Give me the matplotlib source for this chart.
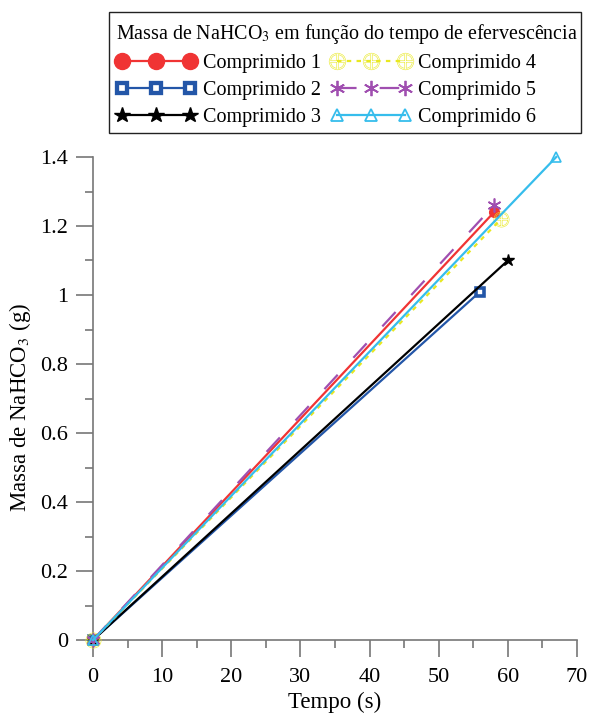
import matplotlib.pyplot as plt
from matplotlib.lines import Line2D
from matplotlib.patches import Rectangle

# series: start and end point of every tablet (time in s, mass in g)
labels = ['Comprimido 1', 'Comprimido 2', 'Comprimido 3',
          'Comprimido 4', 'Comprimido 5', 'Comprimido 6']
tempo = [[0, 58], [0, 56], [0, 60], [0, 59], [0, 58], [0, 67]]
massa = [[0, 1.24], [0, 1.01], [0, 1.10], [0, 1.22], [0, 1.26], [0, 1.40]]

colors = ['#f03434', '#2356a8', '#000000', '#e8e820', '#a04fb0', '#36bdec']

plt.rcParams['font.family'] = ['Liberation Serif', 'DejaVu Serif']
plt.rcParams['mathtext.fontset'] = 'stix'

W, H = 589, 714
fig = plt.figure(figsize=(W / 100, H / 100), dpi=100)
ax = fig.add_axes([93 / W, 1 - 640 / H, (577 - 93) / W, (640 - 157) / H])

# marker style per series, plus the (bigger) size used in the legend
styles = [
    dict(marker='o', mfc=colors[0], mec=colors[0], ls='-'),
    dict(marker='s', mfc='white', mec=colors[1], ls='-'),
    dict(marker='*', mfc=colors[2], mec=colors[2], ls='-'),
    dict(marker=r'$\oplus$', mfc='none', mec=colors[3], ls=(0, (2, 2.4))),
    dict(marker=(6, 2, 0), mfc='none', mec=colors[4], ls=(0, (8.8, 10.4))),
    dict(marker='^', mfc='none', mec=colors[5], ls='-'),
]
plot_ms = [7, 5.5, 9, 11, 10, 7.5]
plot_mew = [1, 2.6, 1, 0.4, 1.2, 1.2]
leg_ms = [11.5, 7.5, 11.5, 12, 11, 9]
leg_mew = [1, 3.1, 1, 0.4, 1.3, 1.3]

handles = []
for i in range(len(labels)):
    ax.plot(tempo[i], massa[i], color=colors[i], lw=1.6, ms=plot_ms[i], mew=plot_mew[i],
            clip_on=False, zorder=3, **styles[i])
    handles.append(Line2D([], [], color=colors[i], lw=1.6, ms=leg_ms[i], mew=leg_mew[i],
                          label=labels[i], **styles[i]))

ax.set_xlim(0, 70)
ax.set_ylim(0, 1.4)
ax.set_xticks(range(0, 71, 10))
ax.set_xticks(range(5, 70, 10), minor=True)
ax.set_yticks([0, 0.2, 0.4, 0.6, 0.8, 1.0, 1.2, 1.4])
ax.set_yticklabels(['0', '0.2', '0.4', '0.6', '0.8', '1', '1.2', '1.4'])
ax.set_yticks([0.1, 0.3, 0.5, 0.7, 0.9, 1.1, 1.3], minor=True)

for s in ['top', 'right']:
    ax.spines[s].set_visible(False)
for s in ['left', 'bottom']:
    ax.spines[s].set_color('#777777')
    ax.spines[s].set_linewidth(1.2)
ax.tick_params(which='major', length=12, width=1.2, color='#777777', labelsize=16)
ax.tick_params(which='minor', length=6, width=1.2, color='#777777')
ax.tick_params(axis='x', which='major', pad=8)
ax.tick_params(axis='y', which='major', pad=6)

ax.set_xlabel('Tempo (s)', fontsize=16.5, va='top')
ax.xaxis.set_label_coords(0.5, -0.107)
ax.set_ylabel(r'Massa de NaHCO$_3$ (g)', fontsize=16.5)
ax.yaxis.set_label_coords(-0.123, 0.482)

# legend frame drawn separately so the padding can differ per side
fig.add_artist(Rectangle((109 / W, 1 - 133 / H), 472 / W, 121 / H, transform=fig.transFigure,
                         facecolor='white', edgecolor='#222222', lw=1.0, zorder=4))
leg = fig.legend(handles=handles, loc='upper left', bbox_to_anchor=(116 / W, 1 - 22 / H),
                 borderaxespad=0, borderpad=0, frameon=False, ncol=2, numpoints=3,
                 handlelength=3.95, handletextpad=0.37, columnspacing=0.5,
                 labelspacing=0.4, alignment='left',
                 prop={'family': 'Liberation Serif', 'size': 14.5},
                 title=r'Massa de NaHCO$_3$ em função do tempo de efervescência',
                 title_fontproperties={'family': 'Liberation Serif', 'size': 14.4})
leg.set_zorder(5)

fig.savefig('out.png', dpi=100)
